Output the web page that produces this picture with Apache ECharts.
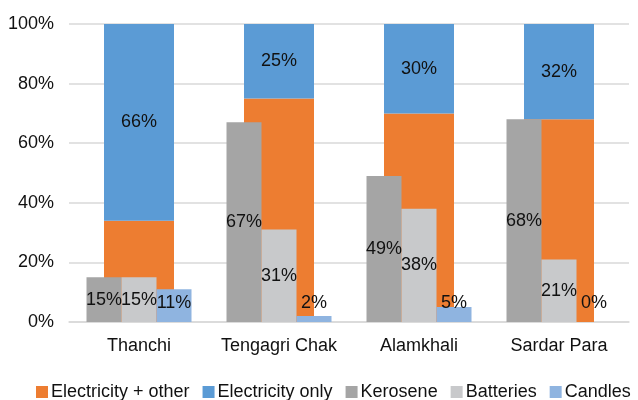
<!DOCTYPE html>
<html><head><meta charset="utf-8">
<script src="https://cdn.jsdelivr.net/npm/echarts@6/dist/echarts.min.js"></script>
<style>html,body{margin:0;padding:0;background:#fff}#c{width:638px;height:400px}</style>
</head><body><div id="c"></div>
<script>
const categories = ['Thanchi', 'Tengagri Chak', 'Alamkhali', 'Sardar Para'];
const electricityOther = [34, 75, 70, 68];
const electricityOnly = [66, 25, 30, 32];
const kerosene = [15, 67, 49, 68];
const batteries = [15, 31, 38, 21];
const candles = [11, 2, 5, 0];
const yTicks = [0, 20, 40, 60, 80, 100];

const font = 'Liberation Sans, Arial, sans-serif';
const lbl = {show: true, formatter: '{c}%', color: '#111', fontSize: 18, fontFamily: font};
const chart = echarts.init(document.getElementById('c'));
chart.setOption({
  animation: false,
  grid: {left: 69, right: 9, top: 24, bottom: 78},
  legend: {
    top: 378, left: 31, itemWidth: 12, itemHeight: 12, itemGap: 13,
    icon: 'rect',
    textStyle: {fontSize: 18, fontFamily: font, color: '#111', padding: [0, 0, 0, -2]},
    data: ['Electricity + other', 'Electricity only', 'Kerosene', 'Batteries', 'Candles']
  },
  xAxis: [
    {type: 'category', data: categories, axisTick: {show: false},
     axisLine: {lineStyle: {color: '#d9d9d9', width: 1.5}},
     axisLabel: {interval: 0, fontSize: 18, fontFamily: font, color: '#111', margin: 15}},
    {type: 'category', data: categories, show: false}
  ],
  yAxis: {
    type: 'value', min: yTicks[0], max: yTicks[yTicks.length - 1], interval: 20,
    axisLabel: {formatter: '{value}%', fontSize: 18, fontFamily: font, color: '#111', margin: 15},
    splitLine: {lineStyle: {color: '#d9d9d9', width: 1.5}},
    axisLine: {show: false}, axisTick: {show: false}
  },
  series: [
    {name: 'Electricity + other', type: 'bar', xAxisIndex: 1, stack: 'e', barWidth: 70,
     data: electricityOther, itemStyle: {color: '#ED7D31'}},
    {name: 'Electricity only', type: 'bar', xAxisIndex: 1, stack: 'e', barWidth: 70,
     data: electricityOnly, itemStyle: {color: '#5B9BD5'}, label: Object.assign({position: 'inside'}, lbl)},
    {name: 'Kerosene', type: 'bar', xAxisIndex: 0, barWidth: 35, barGap: '0%',
     data: kerosene, itemStyle: {color: '#A5A5A5'}, label: Object.assign({position: 'inside'}, lbl)},
    {name: 'Batteries', type: 'bar', xAxisIndex: 0, barWidth: 35, barGap: '0%',
     data: batteries, itemStyle: {color: '#C8C9CB'}, label: Object.assign({position: 'inside'}, lbl)},
    {name: 'Candles', type: 'bar', xAxisIndex: 0, barWidth: 35, barGap: '0%',
     data: candles, itemStyle: {color: '#8FB4E0'}, label: Object.assign({position: 'insideBottom', distance: 10}, lbl)}
  ]
});
</script></body></html>
